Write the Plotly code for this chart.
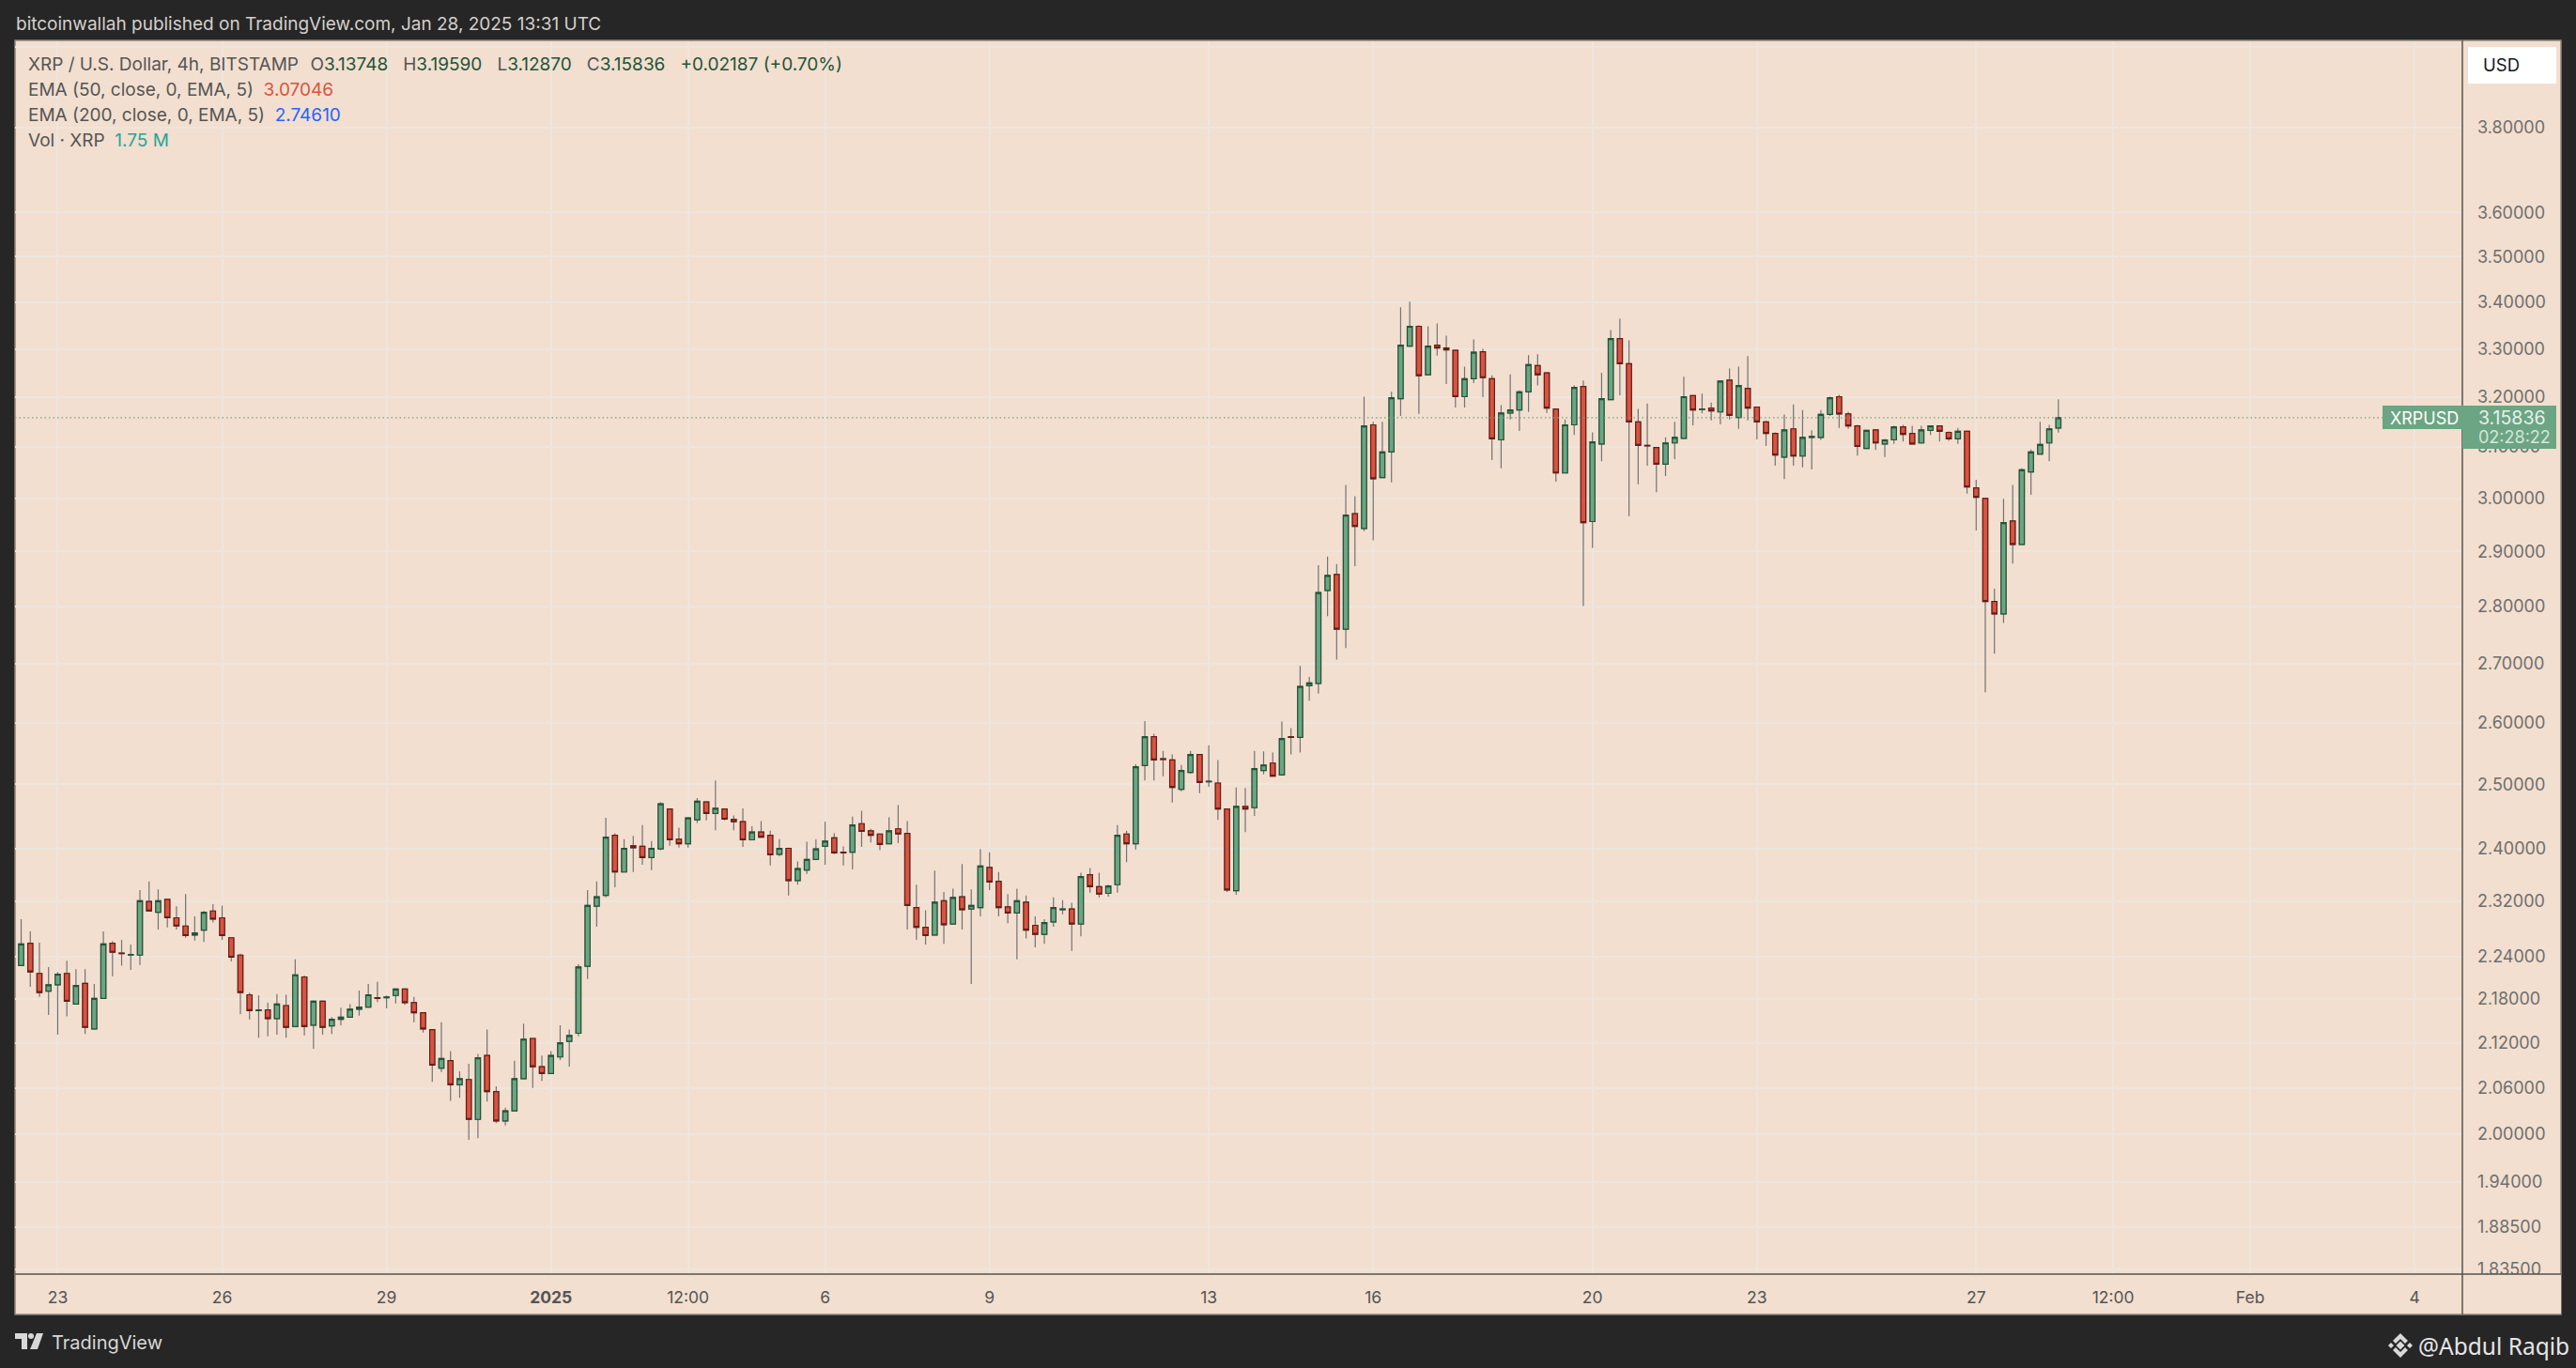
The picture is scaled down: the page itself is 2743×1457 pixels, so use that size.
import math
import pandas as pd
import plotly.graph_objects as go

W, H = 2743, 1457

# XRP/USD 4h candles
times = pd.date_range('2024-12-22 08:00', periods=224, freq='4h')

opens = [2.227,2.259,2.216,2.191,2.200,2.216,2.173,2.202,2.139,2.181,
2.259,2.245,2.242,2.242,2.320,2.304,2.323,2.296,2.284,2.271,
2.278,2.306,2.296,2.267,2.242,2.186,2.164,2.165,2.153,2.171,
2.142,2.211,2.144,2.177,2.143,2.152,2.155,2.166,2.169,2.182,
2.182,2.185,2.194,2.175,2.161,2.138,2.086,2.096,2.064,2.071,
2.019,2.103,2.055,2.017,2.030,2.072,2.126,2.088,2.079,2.101,
2.122,2.133,2.226,2.313,2.329,2.420,2.364,2.404,2.403,2.386,
2.399,2.461,2.414,2.407,2.444,2.472,2.454,2.461,2.445,2.441,
2.413,2.425,2.420,2.391,2.400,2.351,2.367,2.383,2.403,2.416,
2.394,2.394,2.438,2.427,2.422,2.407,2.430,2.423,2.311,2.282,
2.271,2.321,2.287,2.327,2.309,2.311,2.371,2.350,2.312,2.303,
2.319,2.285,2.272,2.290,2.308,2.309,2.287,2.360,2.342,2.332,
2.345,2.422,2.407,2.530,2.577,2.541,2.539,2.492,2.519,2.548,
2.504,2.502,2.461,2.336,2.465,2.463,2.522,2.534,2.515,2.577,
2.576,2.662,2.666,2.829,2.858,2.760,2.971,2.943,3.144,3.040,
3.090,3.197,3.306,3.348,3.246,3.308,3.302,3.297,3.201,3.238,
3.294,3.238,3.114,3.168,3.174,3.211,3.265,3.250,3.176,3.049,
3.144,3.222,2.956,3.106,3.195,3.322,3.269,3.150,3.103,3.099,
3.066,3.108,3.117,3.203,3.175,3.178,3.170,3.235,3.159,3.218,
3.180,3.150,3.127,3.080,3.136,3.082,3.119,3.119,3.165,3.201,
3.166,3.142,3.097,3.134,3.106,3.114,3.140,3.127,3.108,3.133,
3.142,3.129,3.116,3.131,3.020,3.000,2.809,2.787,2.957,2.913,
3.051,3.086,3.108,3.13748]

highs = [2.294,2.276,2.260,2.225,2.218,2.234,2.222,2.222,2.201,2.276,
2.262,2.264,2.257,2.337,2.350,2.338,2.323,2.313,2.331,2.298,
2.306,2.316,2.314,2.267,2.244,2.189,2.185,2.175,2.187,2.186,
2.236,2.213,2.178,2.178,2.155,2.168,2.173,2.192,2.201,2.204,
2.185,2.194,2.194,2.183,2.162,2.138,2.148,2.109,2.082,2.092,
2.105,2.138,2.062,2.034,2.096,2.146,2.126,2.103,2.109,2.144,
2.138,2.229,2.337,2.350,2.447,2.423,2.414,2.419,2.436,2.411,
2.472,2.462,2.432,2.448,2.478,2.472,2.506,2.461,2.451,2.462,
2.434,2.442,2.427,2.414,2.401,2.380,2.410,2.414,2.441,2.423,
2.403,2.449,2.458,2.430,2.422,2.448,2.467,2.442,2.345,2.307,
2.366,2.334,2.339,2.376,2.338,2.399,2.394,2.364,2.331,2.339,
2.329,2.298,2.294,2.326,2.322,2.318,2.363,2.370,2.363,2.345,
2.436,2.427,2.532,2.603,2.582,2.554,2.548,2.531,2.554,2.548,
2.563,2.539,2.461,2.495,2.494,2.554,2.553,2.551,2.602,2.591,
2.696,2.677,2.875,2.891,2.877,3.026,3.004,3.201,3.150,3.150,
3.211,3.389,3.401,3.350,3.348,3.354,3.328,3.297,3.263,3.320,
3.300,3.245,3.184,3.247,3.214,3.287,3.289,3.250,3.176,3.155,
3.224,3.234,3.129,3.250,3.340,3.364,3.318,3.176,3.187,3.099,
3.119,3.150,3.242,3.203,3.207,3.189,3.233,3.259,3.263,3.285,
3.180,3.152,3.129,3.165,3.185,3.174,3.133,3.174,3.201,3.205,
3.170,3.144,3.133,3.134,3.116,3.142,3.144,3.142,3.142,3.142,
3.142,3.131,3.138,3.131,3.036,3.000,2.832,2.999,3.026,3.058,
3.095,3.150,3.144,3.1959]

lows = [2.227,2.197,2.183,2.158,2.131,2.156,2.173,2.132,2.138,2.181,
2.212,2.227,2.221,2.228,2.306,2.279,2.282,2.279,2.267,2.263,
2.261,2.289,2.264,2.233,2.159,2.152,2.127,2.129,2.131,2.127,
2.142,2.130,2.112,2.131,2.132,2.144,2.155,2.157,2.169,2.176,
2.167,2.174,2.172,2.148,2.134,2.068,2.081,2.043,2.047,1.993,
1.995,2.042,2.014,2.011,2.030,2.072,2.060,2.069,2.079,2.097,
2.088,2.129,2.208,2.283,2.326,2.341,2.364,2.364,2.375,2.367,
2.397,2.404,2.401,2.401,2.439,2.443,2.428,2.443,2.428,2.402,
2.413,2.417,2.374,2.388,2.329,2.345,2.361,2.383,2.375,2.391,
2.374,2.368,2.402,2.409,2.397,2.407,2.408,2.279,2.264,2.257,
2.271,2.258,2.287,2.279,2.201,2.298,2.337,2.298,2.288,2.236,
2.266,2.253,2.258,2.283,2.301,2.248,2.269,2.333,2.326,2.327,
2.333,2.379,2.398,2.506,2.506,2.513,2.471,2.489,2.517,2.486,
2.496,2.444,2.334,2.330,2.425,2.450,2.516,2.513,2.515,2.548,
2.551,2.637,2.649,2.783,2.707,2.727,2.873,2.938,2.921,3.040,
3.031,3.162,3.306,3.166,3.246,3.286,3.227,3.179,3.179,3.229,
3.200,3.074,3.058,3.155,3.132,3.170,3.224,3.168,3.032,3.049,
3.124,2.801,2.907,3.072,3.195,3.204,2.966,3.027,3.063,3.012,
3.043,3.076,3.117,3.143,3.167,3.153,3.145,3.155,3.136,3.153,
3.115,3.102,3.063,3.037,3.063,3.060,3.056,3.114,3.162,3.138,
3.136,3.083,3.097,3.094,3.080,3.106,3.111,3.106,3.106,3.124,
3.111,3.112,3.106,3.009,2.939,2.651,2.717,2.771,2.878,2.913,
3.007,3.086,3.072,3.1287]

closes = [2.258,2.218,2.189,2.200,2.215,2.177,2.199,2.141,2.181,2.258,
2.246,2.244,2.243,2.321,2.306,2.321,2.296,2.284,2.270,2.274,
2.304,2.294,2.270,2.239,2.189,2.164,2.165,2.153,2.173,2.141,
2.214,2.142,2.177,2.141,2.152,2.155,2.166,2.169,2.186,2.181,
2.183,2.194,2.175,2.161,2.139,2.090,2.099,2.064,2.072,2.019,
2.100,2.055,2.017,2.030,2.072,2.125,2.088,2.079,2.103,2.120,
2.130,2.225,2.314,2.327,2.417,2.364,2.400,2.401,2.386,2.400,
2.469,2.413,2.407,2.447,2.473,2.454,2.462,2.445,2.441,2.413,
2.425,2.417,2.390,2.400,2.351,2.369,2.383,2.399,2.411,2.393,
2.393,2.436,2.426,2.420,2.406,2.427,2.422,2.314,2.282,2.270,
2.319,2.286,2.326,2.308,2.314,2.373,2.349,2.311,2.303,2.321,
2.278,2.272,2.289,2.311,2.309,2.287,2.357,2.342,2.331,2.343,
2.420,2.407,2.528,2.577,2.539,2.540,2.495,2.522,2.548,2.503,
2.505,2.461,2.337,2.465,2.461,2.525,2.531,2.513,2.574,2.576,
2.661,2.667,2.825,2.856,2.760,2.968,2.947,3.142,3.038,3.090,
3.199,3.308,3.348,3.244,3.306,3.302,3.298,3.201,3.238,3.293,
3.240,3.116,3.168,3.174,3.211,3.267,3.246,3.178,3.049,3.144,
3.220,2.954,3.110,3.197,3.322,3.269,3.150,3.103,3.102,3.066,
3.108,3.119,3.201,3.174,3.176,3.172,3.233,3.163,3.224,3.178,
3.150,3.127,3.084,3.134,3.082,3.119,3.121,3.165,3.199,3.166,
3.142,3.101,3.133,3.108,3.114,3.140,3.125,3.106,3.134,3.142,
3.131,3.116,3.131,3.022,3.002,2.809,2.787,2.954,2.913,3.055,
3.090,3.105,3.136,3.15836]

price_ticks = [4.0,3.8,3.6,3.5,3.4,3.3,3.2,3.1,3.0,2.9,2.8,2.7,2.6,2.5,2.4,
               2.32,2.24,2.18,2.12,2.06,2.0,1.94,1.885,1.835]
price_labels = [''] + ['%.5f' % v for v in price_ticks[1:]]

date_ticks = ['2024-12-23','2024-12-26','2024-12-29','2025-01-01','2025-01-03 12:00',
              '2025-01-06','2025-01-09','2025-01-13','2025-01-16','2025-01-20',
              '2025-01-23','2025-01-27','2025-01-29 12:00','2025-02-01','2025-02-04']
date_labels = ['23','26','29','<b>2025</b>','12:00','6','9','13','16','20','23','27','12:00','Feb','4']

last_price = closes[-1]

UP, DOWN = '#6BA583', '#D75442'
UP_EDGE, DOWN_EDGE = '#225437', '#6B1C14'
WICK = '#737375'
BG = '#F2DFCF'
DARK = '#262626'
GRID = '#EEE5DE'
FONT = 'Inter'


def fx(x):
    return x / W


def fy(y):
    return 1 - y / H


def poly(points):
    return 'M' + ' L'.join('%.5f,%.5f' % (fx(x), fy(y)) for x, y in points) + ' Z'


def rect(x0, y0, x1, y1, fill, line=None, width=0, layer='above'):
    return dict(type='rect', xref='paper', yref='paper', x0=fx(x0), x1=fx(x1), y0=fy(y0), y1=fy(y1),
                fillcolor=fill, line=dict(color=line, width=width) if line else dict(width=0), layer=layer)


def label(x, y, text, size=17.5, color='#555555', anchor='left', font=FONT):
    return dict(xref='paper', yref='paper', x=fx(x), y=fy(y), text=text, showarrow=False,
                xanchor=anchor, yanchor='middle', align=anchor, borderpad=0,
                font=dict(family=font, size=size, color=color))


fig = go.Figure()

# wicks first, bodies drawn over them so the border colour differs from the wick
fig.add_trace(go.Candlestick(x=times, open=opens, high=highs, low=lows, close=closes,
                             whiskerwidth=0,
                             increasing=dict(line=dict(color=WICK, width=1.2), fillcolor=UP),
                             decreasing=dict(line=dict(color=WICK, width=1.2), fillcolor=DOWN),
                             showlegend=False))
fig.add_trace(go.Candlestick(x=times, open=opens, close=closes,
                             high=[max(a, b) for a, b in zip(opens, closes)],
                             low=[min(a, b) for a, b in zip(opens, closes)],
                             whiskerwidth=0,
                             increasing=dict(line=dict(color=UP_EDGE, width=1.2), fillcolor=UP),
                             decreasing=dict(line=dict(color=DOWN_EDGE, width=1.2), fillcolor=DOWN),
                             showlegend=False))

shapes = [
    rect(16, 43, 2727, 1400, BG, '#8E867E', 1.5, layer='below'),
    # last price line
    dict(type='line', xref='paper', yref='y', x0=fx(16), x1=fx(2537), y0=last_price, y1=last_price,
         line=dict(color=UP, width=1.2, dash='1.5px,3px'), layer='above'),
    # price axis bits
    rect(2622, 1357, 2727, 1399, BG),
    dict(type='line', xref='paper', yref='paper', x0=fx(2622), x1=fx(2622), y0=fy(43), y1=fy(1400),
         line=dict(color='#55534F', width=1.5), layer='above'),
    dict(type='line', xref='paper', yref='paper', x0=fx(16), x1=fx(2727), y0=fy(1357), y1=fy(1357),
         line=dict(color='#55534F', width=1.5), layer='above'),
    rect(2628, 50, 2722, 89, '#FFFFFF'),
    rect(2537, 432, 2622, 457, UP),
    rect(2622, 432, 2722, 478, UP),
    # TradingView logo
    dict(type='path', xref='paper', yref='paper', fillcolor='#D8D8D8', line=dict(width=0),
         path=poly([(16, 1420), (29, 1420), (29, 1437), (23, 1437), (23, 1426), (16, 1426)])),
    dict(type='circle', xref='paper', yref='paper', x0=fx(30), x1=fx(36), y0=fy(1420), y1=fy(1426),
         fillcolor='#D8D8D8', line=dict(width=0)),
    dict(type='path', xref='paper', yref='paper', fillcolor='#D8D8D8', line=dict(width=0),
         path=poly([(39, 1420), (46, 1420), (40, 1437), (32, 1437)])),
]

# exchange icon next to the author name
cx, cy = 2556, 1433
for pts in [[(0, -4.5), (4.5, 0), (0, 4.5), (-4.5, 0)],
            [(-10, -3), (-7, 0), (-10, 3), (-13, 0)],
            [(10, -3), (13, 0), (10, 3), (7, 0)],
            [(-8, -5), (0, -13), (8, -5), (5, -2), (0, -7), (-5, -2)],
            [(-8, 5), (0, 13), (8, 5), (5, 2), (0, 7), (-5, 2)]]:
    shapes.append(dict(type='path', xref='paper', yref='paper', fillcolor='#D9D9D9', line=dict(width=0),
                       path=poly([(cx + a, cy + b) for a, b in pts])))

GREY = '#555555'
GREEN = '#225437'


def span(text, color):
    return '<span style="color:%s">%s</span>' % (color, text)


gap = '&nbsp;&nbsp;&#8202;'
wide_gap = '&nbsp;&nbsp;&nbsp;'
ohlc = ('XRP / U.S. Dollar, 4h, BITSTAMP' + gap + 'O' + span('3.13748', GREEN) + wide_gap + 'H' + span('3.19590', GREEN)
        + wide_gap + 'L' + span('3.12870', GREEN) + wide_gap + 'C' + span('3.15836', GREEN)
        + wide_gap + span('+0.02187 (+0.70%)', GREEN))

annotations = [
    label(16, 25, 'bitcoinwallah published on TradingView.com, Jan 28, 2025 13:31 UTC', 19, '#D4D0CC'),
    label(29, 68, ohlc, 19, GREY),
    label(29, 96, 'EMA (50, close, 0, EMA, 5)&nbsp;&nbsp;' + span('3.07046', DOWN), 19, GREY),
    label(29, 123, 'EMA (200, close, 0, EMA, 5)&nbsp;&nbsp;' + span('2.74610', '#2962FF'), 19, GREY),
    label(29, 149, 'Vol · XRP&nbsp;&nbsp;' + span('1.75 M', '#26A69A'), 19, GREY),
    label(2643, 69, 'USD', 18.5, '#131722'),
    label(2544, 445, 'XRPUSD', 18, '#FFFFFF'),
    label(2638, 445, '3.15836', 19.5, '#E8F0EA'),
    label(2638, 466, '02:28:22', 18, '#D5E5DA'),
    label(54, 1430, 'TradingView', 20, '#D8D8D8'),
    label(2574, 1433, '@Abdul Raqib', 24.5, '#E6E6E6', font='Noto Sans'),
]

fig.update_layout(
    width=W, height=H,
    autosize=False,
    margin=dict(l=0, r=0, t=0, b=0, pad=0, autoexpand=False),
    paper_bgcolor=DARK,
    plot_bgcolor=BG,
    showlegend=False,
    boxmode='overlay',
    boxgap=0.25,
    boxgroupgap=0.27,
    shapes=shapes,
    annotations=annotations,
    xaxis=dict(type='date', domain=[fx(16), fx(2622)],
               range=['2024-12-22 05:19', '2025-02-04 20:53'],
               tickmode='array', tickvals=date_ticks, ticktext=date_labels,
               showgrid=True, gridcolor=GRID, gridwidth=1.5, automargin=False,
               rangeslider=dict(visible=False), zeroline=False, showline=False,
               ticks='', ticklabelstandoff=12,
               tickfont=dict(family=FONT, size=17.5, color='#555555')),
    yaxis=dict(type='log', domain=[fy(1357), fy(44)], side='right', automargin=False,
               range=[math.log10(math.exp(0.60395)), math.log10(math.exp(1.39008))],
               tickmode='array', tickvals=price_ticks, ticktext=price_labels,
               showgrid=True, gridcolor=GRID, gridwidth=1.5,
               zeroline=False, showline=False, ticks='', ticklabelstandoff=15,
               tickfont=dict(family=FONT, size=18, color='#6E6E6E')),
)

# the page's default margin would shift the figure
page_css = ("document.body.style.margin='0';document.body.style.height='1457px';"
            "document.body.style.overflow='hidden';document.documentElement.style.height='1457px';"
            "document.documentElement.style.overflow='hidden';")
fig.write_html('out.html', config={'displayModeBar': False}, post_script=page_css)
